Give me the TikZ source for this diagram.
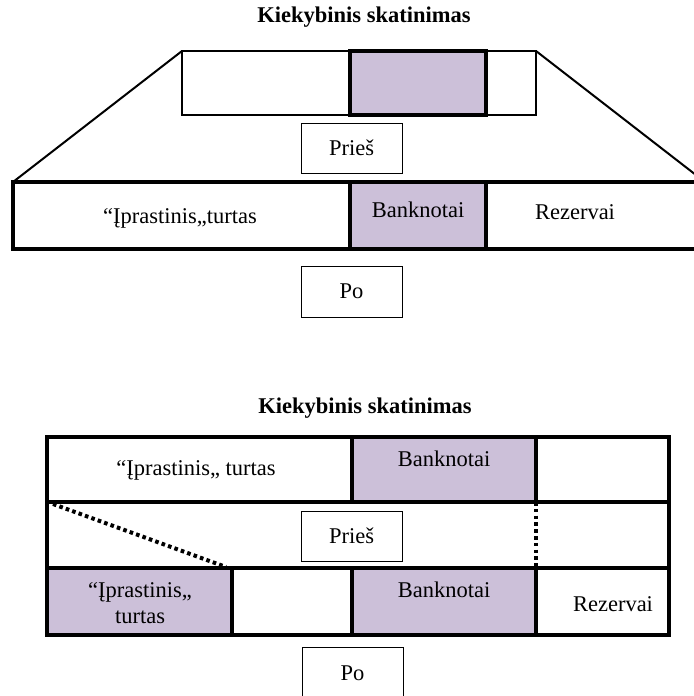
\documentclass[tikz,border=0pt]{standalone}
\usepackage{fontspec}
\setmainfont{Liberation Serif}
\usetikzlibrary{positioning}
\definecolor{lav}{RGB}{204,192,217}

\begin{document}
\begin{tikzpicture}[x=0.5pt,y=-0.5pt,
    cell/.style={draw,inner sep=0pt,outer sep=0pt,anchor=north west,line width=1.6pt},
    notes/.style={cell,fill=lav},
    tag/.style={draw,inner sep=0pt,outer sep=0pt,anchor=north west,line width=0.5pt,
        minimum width=50.5pt,minimum height=25pt},
    lbl/.style={inner sep=0pt,font=\fontsize{11.25}{13}\selectfont,align=center},
    ttl/.style={lbl,font=\fontsize{11.25}{13}\selectfont\bfseries},
    dots/.style={line width=2pt,dash pattern=on 1.8pt off 1.6pt}]
\useasboundingbox (0,0) rectangle (694,696);

% pirmas paveikslas
\node[ttl] (title1) at (364,17) {Kiekybinis skatinimas};
\node[cell,line width=1.25pt,minimum width=177pt,minimum height=32pt] (topbar) at (182,51) {};
\node[notes,line width=2pt,minimum width=68pt,minimum height=32pt] (topnotes) at (350,51) {};
\node[tag] (pries1) at (301,123) {};
\node[lbl] (pries1t) at (pries1.center) {Prieš};
\node[cell,minimum width=350pt,minimum height=33.5pt] (midbar) at (13,182) {};
\node[notes,line width=2pt,minimum width=68pt,minimum height=33.5pt] (midnotes) at (350,182) {};
\node[lbl] (assets1) at (180,218) {“Įprastinis,,turtas};
\node[lbl] (notes1) at (418,210) {Banknotai};
\node[lbl] (res1) at (575,212) {Rezervai};
\node[tag,minimum height=25.5pt] (po1) at (301,266) {};
\node[lbl] (po1t) at (po1.center) {Po};
\coordinate (rfoot) at (705,182);
\draw[line width=1pt] (topbar.north west) -- (midbar.north west);
\draw[line width=1pt] (topbar.north east) -- (rfoot);

% antras paveikslas
\node[ttl] (title2) at (365,408) {Kiekybinis skatinimas};
\node[cell,minimum width=152.5pt,minimum height=32.5pt] (r1a) at (47,437) {};
\node[cell,minimum width=66.5pt,minimum height=32.5pt] (r1c) at (536,437) {};
\node[notes,minimum width=92pt,minimum height=32.5pt] (r1b) at (352,437) {};
\node[cell,minimum width=311pt,minimum height=33pt] (r2) at (47,502) {};
\node[cell,minimum width=60pt,minimum height=33.5pt] (r3b) at (232,568) {};
\node[cell,minimum width=66.5pt,minimum height=33.5pt] (r3d) at (536,568) {};
\node[notes,minimum width=92.5pt,minimum height=33.5pt] (r3a) at (47,568) {};
\node[notes,minimum width=92pt,minimum height=33.5pt] (r3c) at (352,568) {};
\node[lbl] (assets2) at (196,470) {“Įprastinis,, turtas};
\node[lbl] (notes2) at (444,459) {Banknotai};
\node[lbl] (assets3) at (140,603) {“Įprastinis,,\\turtas};
\node[lbl] (notes3) at (444,590) {Banknotai};
\node[lbl] (res3) at (613,604) {Rezervai};
\node[tag] (pries2) at (301,511) {};
\node[lbl] (pries2t) at (pries2.center) {Prieš};
\node[tag,minimum height=30pt] (po2) at (302,647) {};
\node[lbl] (po2t) at ([yshift=2pt]po2.center) {Po};
\draw[dots] ([shift={(6,2)}]r2.north west) -- ([shift={(-6,-1)}]r3a.north east);
\draw[dots] (r1b.south east) -- (r3c.north east);
\end{tikzpicture}
\end{document}
